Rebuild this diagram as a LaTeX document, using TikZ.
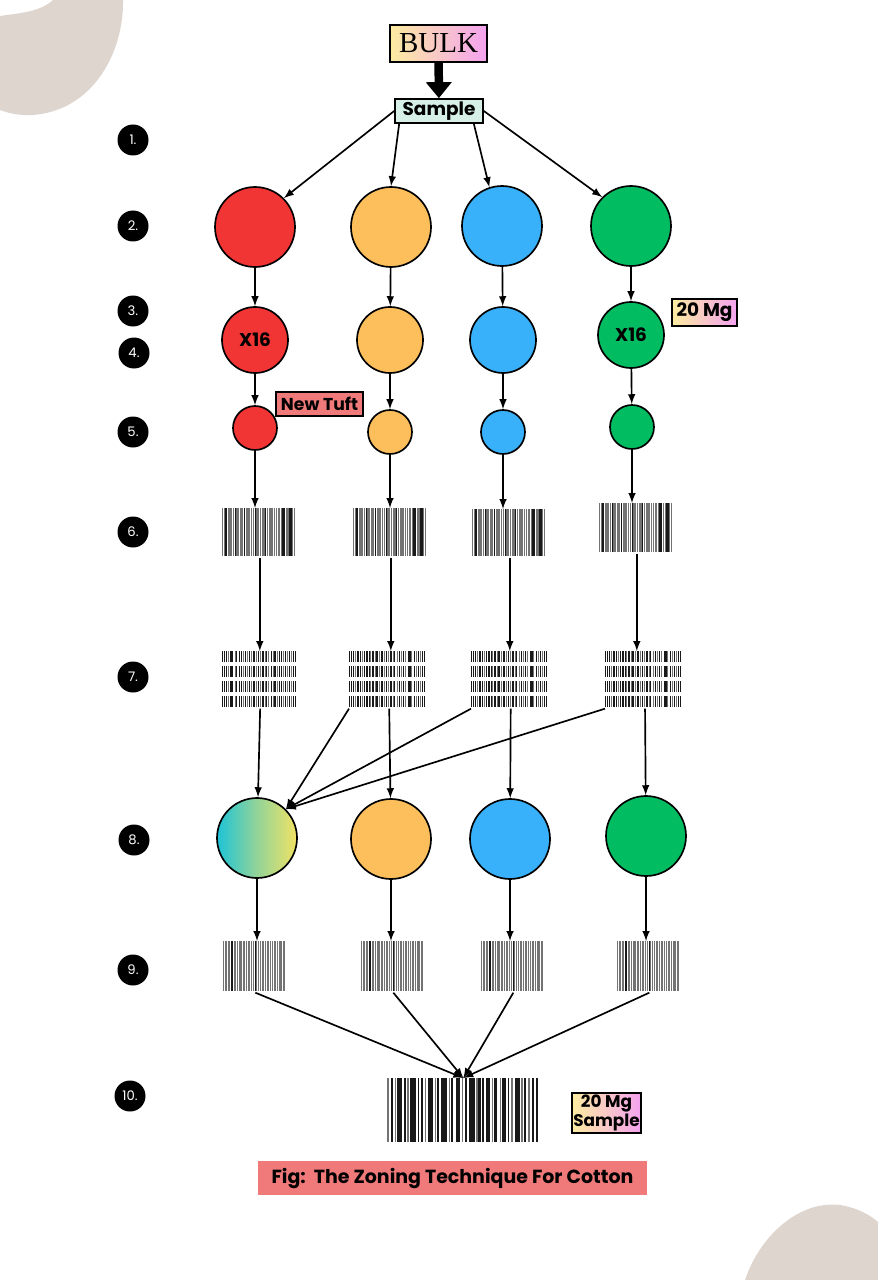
\documentclass[tikz,border=0pt]{standalone}
\usepackage{fontspec}
\setmainfont{Poppins}
\newfontfamily\bulkfont{Liberation Serif}
\usetikzlibrary{arrows.meta}
\definecolor{zred}{RGB}{241,52,52}
\definecolor{zorange}{RGB}{253,190,92}
\definecolor{zblue}{RGB}{56,176,250}
\definecolor{zgreen}{RGB}{2,188,98}
\definecolor{ztuft}{RGB}{240,122,122}
\definecolor{zmint}{RGB}{214,240,232}
\definecolor{zbeige}{RGB}{222,214,206}
\definecolor{zyellow}{RGB}{252,236,160}
\definecolor{zpink}{RGB}{244,162,240}
\definecolor{zcyan}{RGB}{30,195,215}
\definecolor{zlemon}{RGB}{242,226,100}
\colorlet{bark}{black!90}
\colorlet{barg}{black!55}
\newcommand{\px}{0.02cm}
\def\barsA{0/1.5/barg, 2.5/1/barg, 4.5/2.5/bark, 8/1/barg, 10/1.5/barg, 12.5/1/barg, 14.5/2/barg, 17.5/1/bark, 19.5/1.5/barg, 22/1/barg, 24/2.5/barg, 27.5/1/barg, 29.5/1.5/bark, 32/1/barg, 34/2/barg, 37/1/barg, 39/1.5/barg, 41.5/2/barg, 44.5/1/bark, 46.5/1.5/barg, 49/1/barg, 51/2/barg, 54/1/barg, 56/1.5/barg, 58.5/1/bark, 60.5/2/barg, 63.5/1/barg, 65.5/1.5/barg, 68/1/barg, 70/2/barg, 73/1/barg, 75/1.5/barg, 77.5/1/barg, 79.5/1/barg, 81.5/4/bark, 86.5/1/barg, 88.5/1.5/barg, 91/3/bark, 95/1/barg, 97/2/barg}
\def\barsB{0/1.5/bark, 2.5/1.5/bark, 5/2/bark, 8/1/barg, 10/2.5/bark, 13.5/1.5/bark, 17/1/barg, 19/1/bark, 22/2/bark, 25/1.5/bark, 27.5/1/barg, 30/2/bark, 33/1/barg, 35/2/bark, 38/1.5/barg, 40.5/3/bark, 45/1/barg, 47/1.5/bark, 50/1/barg, 53/2/bark, 56/1/barg, 58/1.5/bark, 61/1/barg, 64/2/bark, 67/1/barg, 69/1.5/bark, 72/1/barg, 75/1/bark, 77/2/bark, 80/1/barg, 83/1.5/bark, 86/1/barg, 88/1.5/bark, 91/1/barg, 93/1.5/bark, 96/2/bark}
\def\barsC{0/1.5/barg, 2.5/1.5/bark, 5/1/barg, 6.5/3.5/bark, 11/1.5/bark, 13.5/1/barg, 15.5/4/bark, 20.5/1/bark, 22.5/1.5/bark, 25/1/barg, 27/3.5/bark, 31.5/1/barg, 33/1.5/bark, 36/4/bark, 41/1/barg, 42.5/1.5/bark, 45.5/3/bark, 49.5/1/barg, 51.5/1.5/bark, 54/4/bark, 59/1/barg, 60.5/1.5/bark, 63/1/bark, 65.5/3/bark, 69.5/1/barg, 71/2/bark, 74.5/1/barg, 76/3/bark, 80/1/bark, 82/1.5/barg, 84.5/3.5/bark, 89/1/barg, 91/1/bark, 93.5/1/barg, 96/1.5/bark, 98.5/1.5/bark}
\def\barsD{0/1/barg, 2.5/1/barg, 5/1/barg, 7.5/1/barg, 10/1/barg, 12.5/3/bark, 17/1/barg, 19.5/1.5/barg, 22.5/1/barg, 25/1/barg, 27.5/2/barg, 31/1/barg, 33.5/1/barg, 36/1.5/barg, 39/1/barg, 41.5/1/barg, 44/2/barg, 47.5/1/barg, 50/1.5/bark, 53/1/barg, 55.5/1/barg, 58/2/barg, 61.5/1/barg, 64/1/barg, 66.5/1.5/barg, 69.5/1/barg, 72/1/barg, 74.5/2/barg, 78/1/barg, 80.5/1/barg, 83/1.5/barg, 86/1/barg, 88.5/1/barg, 91/2/barg, 94.5/1/barg, 97/1.5/barg}
% name, left, top, width, height, bars
\newcommand{\barcode}[6]{%
  \node[inner sep=0pt, minimum width=#4*\px, minimum height=#5*\px, anchor=north west] (#1) at (#2,#3) {};
  \foreach \p/\w/\c in #6 \fill[\c] ({#2+\p*#4/100},#3) rectangle ({#2+(\p+\w)*#4/100},{#3+#5});
}
% name, left, top, width
\newcommand{\stackcode}[4]{%
  \node[inner sep=0pt, minimum width=#4*\px, minimum height=56*\px, anchor=north west] (#1) at (#2,#3) {};
  \foreach \r in {0,15,30,45}
    \foreach \p/\w/\c in \barsB \fill[\c] ({#2+\p*#4/100},{#3+\r}) rectangle ({#2+(\p+\w)*#4/100},{#3+\r+11});
}
\begin{document}
\begin{tikzpicture}[x=0.02cm, y=-0.02cm, >=latex, line width=0.95pt,
  badge/.style={circle, fill=black, text=white, inner sep=0pt, minimum size=31*\px, font=\fontsize{7.5}{8}\selectfont},
  ball/.style={circle, draw, inner sep=0pt, minimum size=2*#1*\px},
  lab/.style={font=\fontsize{10.5}{11}\selectfont\bfseries},
  tagbox/.style={draw, inner sep=0pt, lab},
  bigarrow/.style={line width=0.17cm, -{Triangle[width=0.5cm, length=0.32cm]}}]
\useasboundingbox (0,0) rectangle (878,1280);
\fill[white] (0,0) rectangle (878,1280);
\fill[zbeige] (0,16) .. controls (20,13) and (40,12) .. (53,0) -- (123,0)
  .. controls (124,50) and (95,110) .. (33,115) .. controls (20,116) and (8,113) .. (0,110) -- cycle;
\fill[zbeige] (745,1280) .. controls (760,1235) and (800,1200) .. (840,1205)
  .. controls (858,1208) and (870,1215) .. (878,1222) -- (878,1280) -- cycle;

\node[badge] (n1) at (133,140) {1.};
\node[badge] (n2) at (133,226) {2.};
\node[badge] (n3) at (133,311) {3.};
\node[badge] (n4) at (134,353) {4.};
\node[badge] (n5) at (133,432) {5.};
\node[badge] (n6) at (133,532) {6.};
\node[badge] (n7) at (133,677) {7.};
\node[badge] (n8) at (134,840) {8.};
\node[badge] (n9) at (133,970) {9.};
\node[badge] (n10) at (130,1096) {10.};

\node[draw, inner sep=0pt, minimum width=97*\px, minimum height=37*\px, left color=zyellow, right color=zpink, font=\bulkfont\fontsize{16.5}{16}\selectfont] (bulk) at (438.5,43.5) {BULK};
\node[tagbox, fill=zmint, minimum width=88*\px, minimum height=24*\px] (sample) at (439,111) {Sample};
\draw[bigarrow] (bulk) -- (sample);

\node[ball=40, fill=zred] (r2a) at (255,227) {};
\node[ball=40, fill=zorange] (r2b) at (391,227) {};
\node[ball=40, fill=zblue] (r2c) at (502,226) {};
\node[ball=40, fill=zgreen] (r2d) at (631,226) {};

\node[ball=33, fill=zred, lab] (r3a) at (255,340) {X16};
\node[ball=33, fill=zorange] (r3b) at (390,340) {};
\node[ball=33, fill=zblue] (r3c) at (503,340) {};
\node[ball=33, fill=zgreen, lab] (r3d) at (631,335) {X16};
\node[tagbox, minimum width=65*\px, minimum height=27*\px, left color=zyellow, right color=zpink] (mg) at (704.5,312.5) {20 Mg};

\node[ball=22, fill=zred] (r5a) at (255,428) {};
\node[ball=22, fill=zorange] (r5b) at (390,432) {};
\node[ball=22, fill=zblue] (r5c) at (503,432) {};
\node[ball=22, fill=zgreen] (r5d) at (632,427) {};
\node[tagbox, fill=ztuft, minimum width=87*\px, minimum height=24*\px, font=\fontsize{9.8}{10}\selectfont\bfseries] (tuft) at (319.5,404) {New Tuft};

\barcode{b6a}{222}{508}{74}{48}{\barsA}
\barcode{b6b}{353}{508}{74}{48}{\barsA}
\barcode{b6c}{472}{509}{74}{47}{\barsA}
\barcode{b6d}{599}{503}{74}{49}{\barsA}

\stackcode{b7a}{222}{651}{76}
\stackcode{b7b}{349}{651}{78}
\stackcode{b7c}{471}{651}{78}
\stackcode{b7d}{605}{651}{78}

\node[ball=40, left color=zcyan, right color=zlemon, middle color=zcyan!45!zlemon] (r8a) at (257,838) {};
\node[ball=40, fill=zorange] (r8b) at (391,839) {};
\node[ball=40, fill=zblue] (r8c) at (510,839) {};
\node[ball=40, fill=zgreen] (r8d) at (646,836) {};

\barcode{b9a}{223}{941}{63}{50}{\barsD}
\barcode{b9b}{361}{941}{63}{50}{\barsD}
\barcode{b9c}{481}{941}{63}{50}{\barsD}
\barcode{b9d}{617}{941}{63}{50}{\barsD}

\barcode{b10}{387}{1078}{151}{64}{\barsC}
\node[tagbox, align=center, minimum width=69*\px, minimum height=40*\px, left color=zyellow, right color=zpink, font=\fontsize{9.6}{9.2}\selectfont\bfseries] (mgs) at (606.5,1113) {20 Mg\\Sample};

\node[fill=ztuft, inner sep=0pt, minimum width=389*\px, minimum height=34*\px, font=\fontsize{10.8}{11}\selectfont\bfseries] (cap) at (452.5,1178) {Fig:\ \ The Zoning Technique For Cotton};

\draw[->] (sample.west) -- (r2a.north east);
\draw[->] ([xshift=0.1cm]sample.south west) -- (r2b.north);
\draw[->] ([xshift=-0.2cm]sample.south east) -- (r2c.108);
\draw[->] (sample.east) -- (r2d.north west);
\foreach \c in {a,b,c,d}{
  \draw[->] (r2\c) -- (r3\c);
  \draw[->] (r3\c) -- (r5\c);
  \draw[->] (r5\c) -- (r5\c |- b6\c.north);
  \draw[->] (b6\c) -- (b6\c |- b7\c.north);
  \draw[->] (b7\c) -- (r8\c);
  \draw[->] (r8\c) -- (r8\c |- b9\c.north);
  \draw[->] (b9\c.south) -- (b10.north);
}
\foreach \c in {b,c,d}
  \draw[->] (b7\c.south west) -- (r8a.north east);
\end{tikzpicture}
\end{document}
